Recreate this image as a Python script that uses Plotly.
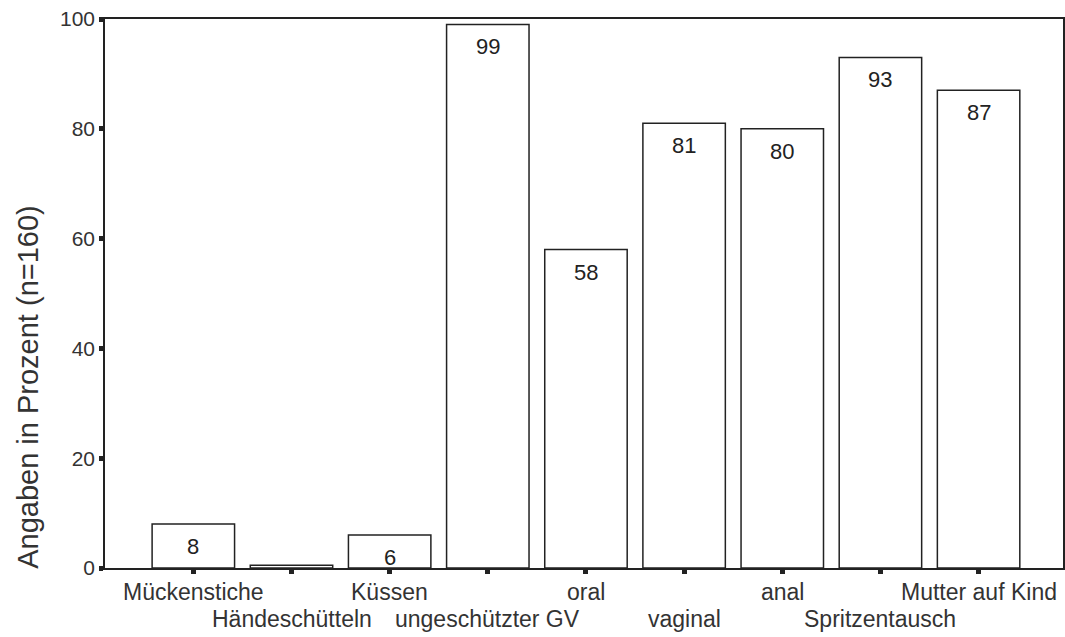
import plotly.graph_objects as go

categories = ["Mückenstiche", "Händeschütteln", "Küssen", "ungeschützter GV", "oral",
              "vaginal", "anal", "Spritzentausch", "Mutter auf Kind"]
values = [8, 0.5, 6, 99, 58, 81, 80, 93, 87]
labels = ["8", "", "6", "99", "58", "81", "80", "93", "87"]
y_ticks = [0, 20, 40, 60, 80, 100]
y_title = "Angaben in Prozent (n=160)"

idx = list(range(len(categories)))
FONT = "Liberation Sans, Arial"

fig = go.Figure(go.Bar(
    x=idx, y=values, width=0.84,
    marker=dict(color="white", line=dict(color="#222", width=1.5)),
    cliponaxis=False, hoverinfo="skip",
))

annotations = []
for i, (v, t) in enumerate(zip(values, labels)):
    if t:
        annotations.append(dict(x=i, y=v, xref="x", yref="y", text=t, showarrow=False,
                                yanchor="top", yshift=-8,
                                font=dict(size=22, color="#222", family=FONT)))
for i, c in enumerate(categories):
    annotations.append(dict(x=i, y=0, xref="x", yref="paper", text=c, showarrow=False,
                            yanchor="top", yshift=-9 if i % 2 == 0 else -36,
                            font=dict(size=23, color="#333", family=FONT)))
annotations.append(dict(x=0, y=0.33, xref="paper", yref="paper", text=y_title,
                        showarrow=False, textangle=-90, xanchor="center", yanchor="middle",
                        xshift=-77, font=dict(size=29, color="#333", family=FONT)))

fig.update_layout(
    width=1065, height=637,
    margin=dict(l=105, r=2, t=19, b=69, autoexpand=False),
    paper_bgcolor="white", plot_bgcolor="white",
    showlegend=False,
    font=dict(family=FONT, color="#333", size=22),
    annotations=annotations,
    xaxis=dict(
        range=[-0.9, 8.86], tickvals=idx, showticklabels=False, automargin=False,
        showline=True, linecolor="#222", linewidth=1.5, mirror=True,
        ticks="outside", ticklen=4, tickwidth=5, tickcolor="#222",
        showgrid=False, zeroline=False,
    ),
    yaxis=dict(
        range=[0, 100], tickvals=y_ticks, automargin=False,
        showline=True, linecolor="#222", linewidth=1.5, mirror=True,
        ticks="outside", ticklen=4, tickwidth=5, tickcolor="#222",
        showgrid=False, zeroline=False, tickfont=dict(size=21, color="#333"),
    ),
)

fig.write_html("out.html")
